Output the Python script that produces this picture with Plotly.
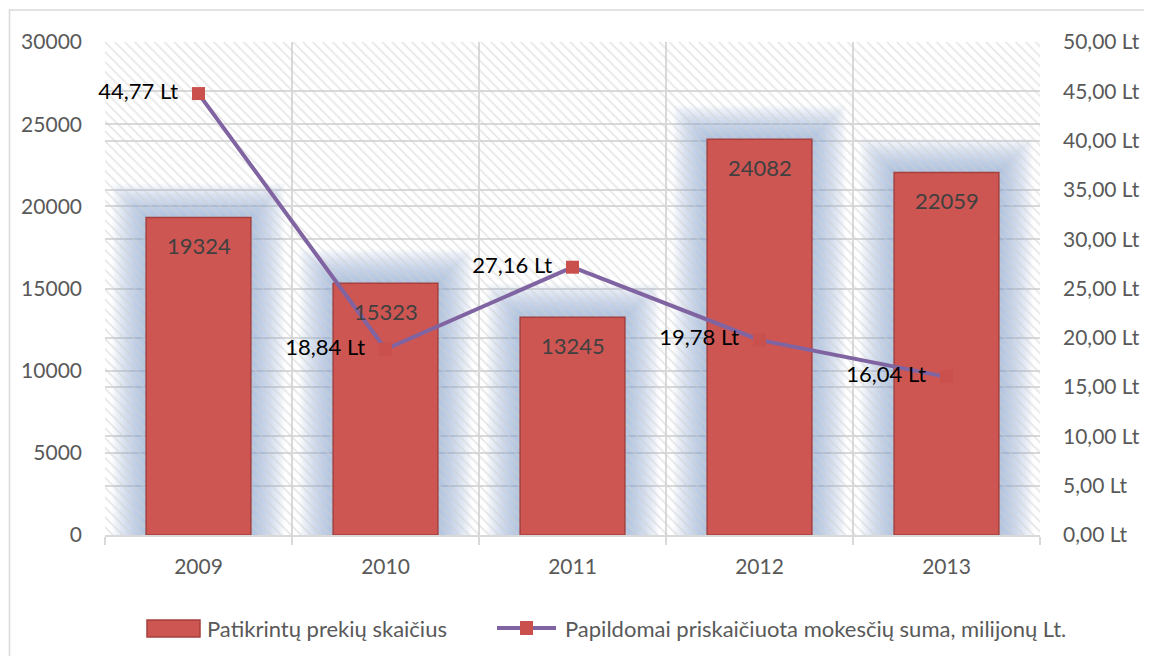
import plotly.graph_objects as go

years = ["2009", "2010", "2011", "2012", "2013"]
counts = [19324, 15323, 13245, 24082, 22059]
amounts = [44.77, 18.84, 27.16, 19.78, 16.04]
left_ticks = [0, 5000, 10000, 15000, 20000, 25000, 30000]
left_tick_text = ["0", "5000", "10000", "15000", "20000", "25000", "30000"]
right_ticks = [0, 5, 10, 15, 20, 25, 30, 35, 40, 45, 50]
right_tick_text = ["0,00 Lt", "5,00 Lt", "10,00 Lt", "15,00 Lt", "20,00 Lt", "25,00 Lt",
                   "30,00 Lt", "35,00 Lt", "40,00 Lt", "45,00 Lt", "50,00 Lt"]
bar_name = "Patikrintų prekių skaičius"
line_name = "Papildomai priskaičiuota mokesčių suma, milijonų Lt."

FONT = "Lato"
W, H = 1152, 656
OFF = 8  # page body margin
ML, MR, MT, MB = 105 - OFF, 112 + OFF, 42 - OFF, 121 + OFF
YMAX = 30000
Y2MAX = 50
xs = list(range(len(years)))

BAR_COLOR = "#cd5653"
BAR_EDGE = "#a5403d"
LINE_COLOR = "#8064a2"
MARK_COLOR = "#c9504c"

fig = go.Figure()

# soft blue glow behind bars
n_glow = 14
for k in range(n_glow):
    t = 1 - k / (n_glow - 1)
    w = 0.58 + 0.34 * t
    pad = 150 + 1900 * t
    fig.add_trace(go.Bar(
        x=xs, y=[c + pad for c in counts], width=w,
        marker=dict(color="rgba(140,172,212,0.068)", line=dict(width=0),
                    cornerradius=int(6 + 22 * t)),
        hoverinfo="skip", showlegend=False))

# hatched plot background
fig.add_trace(go.Bar(
    x=xs, y=[YMAX] * len(xs), width=1,
    marker=dict(color="rgba(0,0,0,0)", line=dict(width=0),
                pattern=dict(shape="\\", fgcolor="#d0d0d0", bgcolor="rgba(0,0,0,0)",
                             size=7, solidity=0.25)),
    hoverinfo="skip", showlegend=False))

fig.add_trace(go.Bar(
    x=xs, y=counts, width=0.56, name=bar_name,
    marker=dict(color=BAR_COLOR, line=dict(color=BAR_EDGE, width=1.5)),
    hoverinfo="skip", showlegend=False,
))

fig.add_trace(go.Scatter(
    x=xs, y=amounts, yaxis="y2", name=line_name, mode="lines+markers+text",
    line=dict(color=LINE_COLOR, width=4),
    marker=dict(symbol="square", size=13, color=MARK_COLOR),
    text=[f"{a:.2f}".replace(".", ",") + " Lt\u00a0\u00a0" for a in amounts],
    textposition="middle left",
    textfont=dict(family=FONT, size=22, color="#000000"),
    cliponaxis=False,
    hoverinfo="skip", showlegend=False,
))

annotations = []
for i, c in zip(xs, counts):
    annotations.append(dict(x=i, y=c, xref="x", yref="y", text=str(c), showarrow=False,
                            yanchor="middle", yshift=-28,
                            font=dict(family=FONT, size=22, color="#404040")))

pw = W - ML - MR
ph = H - MT - MB
def px_x(p):
    return (p - OFF - ML) / pw
def px_y(p):
    return (H - MB - (p - OFF)) / ph

# manual legend
LEG_Y = 628
annotations.append(dict(x=px_x(205), y=px_y(LEG_Y), xref="paper", yref="paper", text=bar_name,
                        showarrow=False, xanchor="left", yanchor="middle",
                        font=dict(family=FONT, size=22, color="#595959")))
annotations.append(dict(x=px_x(563), y=px_y(LEG_Y), xref="paper", yref="paper", text=line_name,
                        showarrow=False, xanchor="left", yanchor="middle",
                        font=dict(family=FONT, size=22, color="#595959")))

shapes = [
    dict(type="rect", xref="paper", yref="paper",
         x0=px_x(9.5), x1=px_x(1149), y0=px_y(700), y1=px_y(10),
         line=dict(color="#d9d9d9", width=1.5), fillcolor="rgba(0,0,0,0)", layer="below"),
    dict(type="rect", xref="paper", yref="paper",
         x0=px_x(147), x1=px_x(200), y0=px_y(637), y1=px_y(620),
         line=dict(color=BAR_EDGE, width=1.5), fillcolor=BAR_COLOR),
    dict(type="line", xref="paper", yref="paper",
         x0=px_x(497), x1=px_x(556), y0=px_y(LEG_Y), y1=px_y(LEG_Y),
         line=dict(color=LINE_COLOR, width=4)),
    dict(type="rect", xref="paper", yref="paper",
         x0=px_x(520), x1=px_x(533), y0=px_y(LEG_Y + 7), y1=px_y(LEG_Y - 7),
         line=dict(width=0), fillcolor=MARK_COLOR),
]

fig.update_layout(
    width=W, height=H,
    margin=dict(l=ML, r=MR, t=MT, b=MB),
    barmode="overlay",
    paper_bgcolor="white", plot_bgcolor="white",
    font=dict(family=FONT, size=21, color="#595959"),
    showlegend=False,
    annotations=annotations,
    shapes=shapes,
    xaxis=dict(range=[-0.5, len(xs) - 0.5], tickvals=xs, ticktext=years,
               showgrid=False, zeroline=False, showline=True, linecolor="#d9d9d9", linewidth=2,
               ticks="", ticklabelstandoff=12,
               minor=dict(tickvals=[i - 0.5 for i in range(len(xs) + 1)], showgrid=True,
                          gridcolor="#d9d9d9", gridwidth=2, ticks="outside", ticklen=8,
                          tickcolor="#d9d9d9", tickwidth=2),
               tickfont=dict(family=FONT, size=21, color="#595959"), fixedrange=True),
    yaxis=dict(range=[0, YMAX], tickvals=left_ticks, ticktext=left_tick_text,
               showgrid=True, gridcolor="#d9d9d9",
               gridwidth=2, zeroline=False, showline=False, ticks="",
               ticklabelstandoff=22,
               tickfont=dict(family=FONT, size=21, color="#595959"), fixedrange=True),
    yaxis2=dict(range=[0, Y2MAX], overlaying="y", side="right", tickvals=right_ticks,
                ticktext=right_tick_text, showgrid=True, gridcolor="#d9d9d9", gridwidth=2,
                zeroline=False, showline=False, ticks="", ticklabelstandoff=22,
                tickfont=dict(family=FONT, size=21, color="#595959"), fixedrange=True),
)

fig.write_html("out.html")
